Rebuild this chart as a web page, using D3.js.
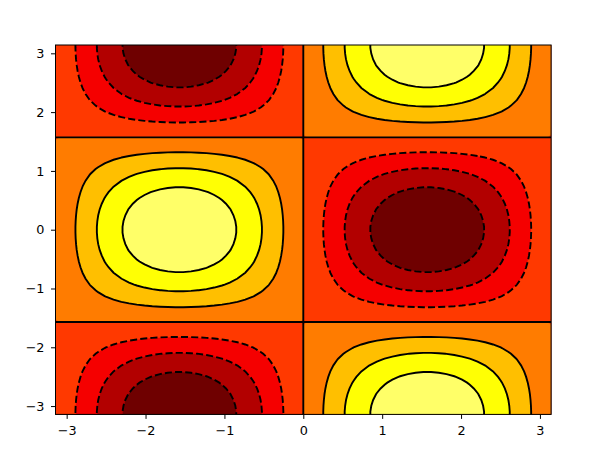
<!DOCTYPE html>
<html>
<head>
<meta charset="utf-8">
<script src="https://cdn.jsdelivr.net/npm/d3@7"></script>
<style>
  body { margin: 0; background: #fff; }
  svg text { font-family: "DejaVu Sans", sans-serif; }
</style>
</head>
<body>
<div id="chart"></div>
<script>
// sampled field: nodes every pi/32 (offset by half a step), reaching a bit past the axes
var gridRange = [-3.289, 3.289];

// profile of the field along x (at y = 0)
var profX = [-0.147, -0.049, 0.049, 0.147, 0.243, 0.337, 0.428, 0.514, 0.596, 0.672, 0.741, 0.803,
  0.858, 0.904, 0.942, 0.970, 0.989, 0.999, 0.999, 0.989, 0.970, 0.942, 0.904, 0.858, 0.803, 0.741,
  0.672, 0.596, 0.514, 0.428, 0.337, 0.243, 0.147, 0.049, -0.049, -0.147, -0.243, -0.337, -0.428,
  -0.514, -0.596, -0.672, -0.741, -0.803, -0.858, -0.904, -0.942, -0.970, -0.989, -0.999, -0.999,
  -0.989, -0.970, -0.942, -0.904, -0.858, -0.803, -0.741, -0.672, -0.596, -0.514, -0.428, -0.337,
  -0.243, -0.147, -0.049, 0.049, 0.147];
// profile of the field along y (at x = -pi/2)
var profY = [-0.989, -0.999, -0.999, -0.989, -0.970, -0.942, -0.904, -0.858, -0.803, -0.741, -0.672,
  -0.596, -0.514, -0.428, -0.337, -0.243, -0.147, -0.049, 0.049, 0.147, 0.243, 0.337, 0.428, 0.514,
  0.596, 0.672, 0.741, 0.803, 0.858, 0.904, 0.942, 0.970, 0.989, 0.999, 0.999, 0.989, 0.970, 0.942,
  0.904, 0.858, 0.803, 0.741, 0.672, 0.596, 0.514, 0.428, 0.337, 0.243, 0.147, 0.049, -0.049, -0.147,
  -0.243, -0.337, -0.428, -0.514, -0.596, -0.672, -0.741, -0.803, -0.858, -0.904, -0.942, -0.970,
  -0.989, -0.999, -0.999, -0.989];

var fillLevels = [-1.25, -1, -0.75, -0.5, -0.25, 0, 0.25, 0.5, 0.75, 1, 1.25];
var lineLevels = [-0.75, -0.5, -0.25, 0.25, 0.5, 0.75];   // the 0 level is drawn from the profiles
var tickVals = [-3, -2, -1, 0, 1, 2, 3];

function drawChart() {
  var W = 592, H = 458;
  var pL = 55.5, pR = 551.1, pT = 45, pB = 414.4;

  var svg = d3.select("#chart").append("svg")
    .attr("width", W).attr("height", H);

  var xs = d3.scaleLinear().domain([-Math.PI, Math.PI]).range([pL, pR]);
  var ys = d3.scaleLinear().domain([-Math.PI, Math.PI]).range([pB, pT]);

  var nx = profX.length, ny = profY.length;
  var values = [];
  for (var j = 0; j < ny; j++)
    for (var i = 0; i < nx; i++)
      values.push(profX[i] * profY[j]);

  // contour coords -> data coords (node k sits at k + 0.5)
  var gx = d3.scaleLinear().domain([0.5, nx - 0.5]).range(gridRange);
  var gy = d3.scaleLinear().domain([0.5, ny - 0.5]).range(gridRange);
  var proj = d3.geoTransform({
    point: function(a, b) { this.stream.point(xs(gx(a)), ys(gy(b))); }
  });
  var path = d3.geoPath(proj);

  // matplotlib "hot"
  var hot = function(t) {
    var r = Math.min(1, 0.0416 + 0.9584 * t / 0.365079),
        g = Math.max(0, Math.min(1, (t - 0.365079) / 0.380953)),
        b = Math.max(0, Math.min(1, (t - 0.746032) / 0.253968));
    return d3.rgb(r * 255, g * 255, b * 255).formatHex();
  };
  var norm = d3.scaleLinear().domain([fillLevels[0], fillLevels[fillLevels.length - 1]]).range([0, 1]);
  var bandColor = function(k) { return hot(norm((fillLevels[k] + fillLevels[k + 1]) / 2)); };

  svg.append("clipPath").attr("id", "clip")
    .append("rect").attr("x", pL).attr("y", pT)
    .attr("width", pR - pL).attr("height", pB - pT);

  var plot = svg.append("g").attr("clip-path", "url(#clip)");

  var bands = d3.contours().size([nx, ny]).thresholds(fillLevels.slice(0, -1))(values);
  plot.selectAll("path.band")
    .data(bands)
    .enter().append("path")
    .attr("class", "band")
    .attr("d", path)
    .attr("fill", function(d, k) { return bandColor(k); })
    .attr("stroke", function(d, k) { return bandColor(k); })
    .attr("stroke-width", 0.5);

  var lines = d3.contours().size([nx, ny]).thresholds(lineLevels)(values);
  plot.selectAll("path.line")
    .data(lines)
    .enter().append("path")
    .attr("class", "line")
    .attr("d", path)
    .attr("fill", "none")
    .attr("stroke", "#000")
    .attr("stroke-width", 1.9)
    .attr("stroke-dasharray", function(d) { return d.value < 0 ? "7.1,3.1" : null; });

  // zero level: where the profiles change sign
  function zeros(prof, g) {
    var out = [];
    for (var k = 0; k < prof.length - 1; k++) {
      if (prof[k] * prof[k + 1] < 0) {
        var v = g(k + 0.5 + prof[k] / (prof[k] - prof[k + 1]));
        if (Math.abs(v) < Math.PI - 0.05) out.push(v);
      }
    }
    return out;
  }
  plot.selectAll("line.zx")
    .data(zeros(profX, gx))
    .enter().append("line")
    .attr("x1", function(d) { return xs(d); }).attr("x2", function(d) { return xs(d); })
    .attr("y1", pT).attr("y2", pB)
    .attr("stroke", "#000").attr("stroke-width", 1.9);
  plot.selectAll("line.zy")
    .data(zeros(profY, gy))
    .enter().append("line")
    .attr("y1", function(d) { return ys(d); }).attr("y2", function(d) { return ys(d); })
    .attr("x1", pL).attr("x2", pR)
    .attr("stroke", "#000").attr("stroke-width", 1.9);

  var fmt = d3.format("d");
  var xAxis = svg.append("g")
    .attr("transform", "translate(0," + pB + ")")
    .call(d3.axisBottom(xs).tickValues(tickVals).tickFormat(fmt)
      .tickSize(4.5).tickPadding(7.5).tickSizeOuter(0));
  var yAxis = svg.append("g")
    .attr("transform", "translate(" + pL + ",0)")
    .call(d3.axisLeft(ys).tickValues(tickVals).tickFormat(fmt)
      .tickSize(4.5).tickPadding(6.5).tickSizeOuter(0));
  [xAxis, yAxis].forEach(function(a) {
    a.select(".domain").remove();
    a.selectAll(".tick line").attr("stroke", "#000").attr("stroke-width", 1);
    a.selectAll(".tick text").attr("fill", "#000").style("font-size", "12.8px");
  });

  svg.append("rect")
    .attr("x", pL).attr("y", pT)
    .attr("width", pR - pL).attr("height", pB - pT)
    .attr("fill", "none").attr("stroke", "#000").attr("stroke-width", 1);
}

drawChart();
</script>
</body>
</html>
